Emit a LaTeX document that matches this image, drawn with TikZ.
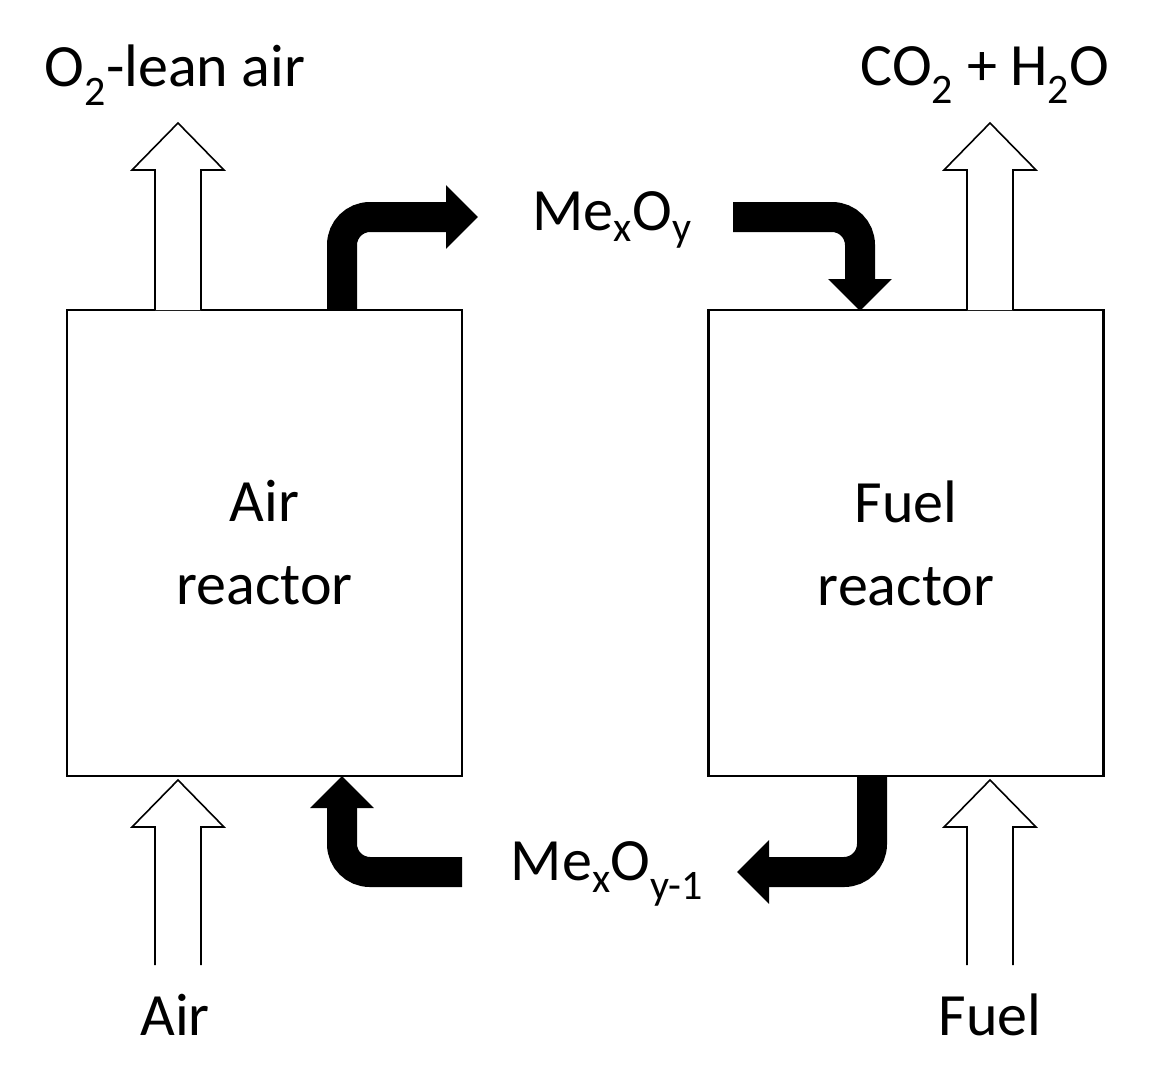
\documentclass[tikz,border=0pt]{standalone}
\usepackage{fontspec}
\setmainfont{Carlito}
\usetikzlibrary{arrows.meta}
\begin{document}
\begin{tikzpicture}[x=1pt,y=-1pt,
  box/.style={draw,line width=2.2pt,minimum width=395pt,minimum height=466pt,inner sep=0pt,align=center,font=\fontsize{60}{83}\selectfont},
  lbl/.style={font=\fontsize{60}{66}\selectfont,inner sep=0pt},
  flow/.style={line width=30pt,rounded corners=28pt,-{Triangle[length=32pt,width=62pt]}},
  hollow/.style={draw,line width=1.6pt,fill=white}]
\useasboundingbox (0,0) rectangle (1155,1071);
\node[box] (ar) at (264.5,543) {Air\\reactor};
\node[box] (fr) at (906,543) {Fuel\\reactor};
% hollow arrows
\newcommand{\hup}[3]{\draw[hollow] (#1-23,#2) -- (#1-23,#3+47) -- (#1-46,#3+47) -- (#1,#3) -- (#1+46,#3+47) -- (#1+23,#3+47) -- (#1+23,#2);}
\hup{178}{310}{123}
\hup{990}{310}{123}
\hup{178}{965}{780}
\hup{990}{965}{780}
\node[lbl] (o2) at (175,75) {O\textsubscript{2}-lean air};
\node[lbl] (co2) at (985,75) {CO\textsubscript{2} + H\textsubscript{2}O};
\node[lbl] (air) at (175,1015) {Air};
\node[lbl] (fuel) at (990,1015) {Fuel};
\node[lbl] (ox) at (612,220) {Me\textsubscript{x}O\textsubscript{y}};
\node[lbl] (red) at (607,874) {Me\textsubscript{x}O\textsubscript{y-1}};
% black arrows
\draw[flow] (342,310) -- (342,217) -- (478,217);
\draw[flow] (733,217) -- (860,217) -- (860,311);
\draw[flow] (872,776) -- (872,872) -- (737,872);
\draw[flow] (462,872) -- (342,872) -- (342,776);
\end{tikzpicture}
\end{document}
